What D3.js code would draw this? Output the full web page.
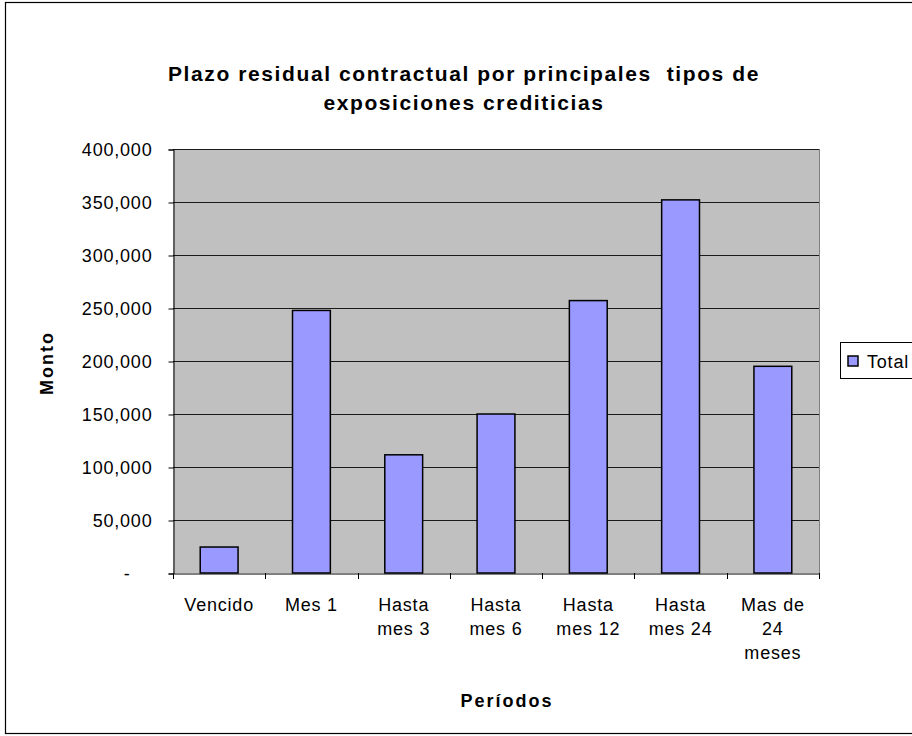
<!DOCTYPE html>
<html>
<head>
<meta charset="utf-8">
<script src="https://cdn.jsdelivr.net/npm/d3@7.9.0/dist/d3.min.js"></script>
<style>
  body { margin: 0; background: #fff; }
  svg { display: block; font-family: "Liberation Sans", Arial, sans-serif; }
</style>
</head>
<body>
<div id="chart"></div>
<script>
const categories = ['Vencido', 'Mes 1', 'Hasta mes 3', 'Hasta mes 6', 'Hasta mes 12', 'Hasta mes 24', 'Mas de 24 meses'];
const categoryLines = [['Vencido'], ['Mes 1'], ['Hasta', 'mes 3'], ['Hasta', 'mes 6'], ['Hasta', 'mes 12'], ['Hasta', 'mes 24'], ['Mas de', '24', 'meses']];
const totals = [24500, 247700, 111500, 150000, 257000, 352000, 195000];
const yTicks = [0, 50000, 100000, 150000, 200000, 250000, 300000, 350000, 400000];
const titleLines = ['Plazo residual contractual por principales  tipos de', 'exposiciones crediticias'];

const width = 912, height = 736;
const plot = { left: 173, right: 819, top: 149, bottom: 573 };

const svg = d3.select('#chart').append('svg')
  .attr('width', width)
  .attr('height', height);

// chart frame
svg.append('rect')
  .attr('x', 5.5).attr('y', 2.5)
  .attr('width', 940).attr('height', 731)
  .attr('fill', '#fff').attr('stroke', '#000').attr('stroke-width', 1.2);

const x = d3.scaleBand()
  .domain(categories)
  .range([plot.left, plot.right])
  .paddingInner(0.59)
  .paddingOuter(0.295);

const xTicks = d3.scaleBand().domain(categories).range([plot.left, plot.right]);

const y = d3.scaleLinear()
  .domain([0, 400000])
  .range([plot.bottom, plot.top]);

// plot area
svg.append('rect')
  .attr('x', plot.left).attr('y', plot.top)
  .attr('width', plot.right - plot.left).attr('height', plot.bottom - plot.top)
  .attr('fill', '#c0c0c0');

svg.append('line')
  .attr('x1', plot.right + 0.5).attr('x2', plot.right + 0.5)
  .attr('y1', plot.top).attr('y2', plot.bottom)
  .attr('stroke', '#808080');

// gridlines
svg.append('g').selectAll('line')
  .data(yTicks.filter(d => d > 0))
  .join('line')
  .attr('x1', plot.left).attr('x2', plot.right)
  .attr('y1', d => Math.round(y(d)) + 0.5).attr('y2', d => Math.round(y(d)) + 0.5)
  .attr('stroke', '#1a1a1a').attr('stroke-width', 1.2);

// y axis
const yAxis = d3.axisLeft(y)
  .tickValues(yTicks)
  .tickSize(5)
  .tickPadding(16)
  .tickFormat(d => d === 0 ? '-' : d3.format(',')(d));

svg.append('g')
  .attr('transform', `translate(${plot.left + 0.5},0.5)`)
  .call(yAxis)
  .call(g => g.select('.domain').attr('stroke', '#000'))
  .call(g => g.selectAll('.tick line').attr('stroke', '#000'))
  .call(g => g.selectAll('.tick text').attr('font-size', 18).attr('fill', '#000')
    .attr('letter-spacing', 0.8)
    .attr('font-family', '"Liberation Sans", Arial, sans-serif'))
  .call(g => g.selectAll('.tick text').filter(d => d === 0).attr('dx', -22));

// bars
svg.append('g').selectAll('rect')
  .data(totals)
  .join('rect')
  .attr('x', (d, i) => x(categories[i]))
  .attr('y', d => y(d))
  .attr('width', x.bandwidth())
  .attr('height', d => plot.bottom - y(d))
  .attr('fill', '#9999ff')
  .attr('stroke', '#000')
  .attr('stroke-width', 1.5);

// x axis
const xAxis = d3.axisBottom(xTicks).tickSize(0).tickFormat('');
const gx = svg.append('g')
  .attr('transform', `translate(0,${plot.bottom + 0.5})`)
  .call(xAxis);
gx.select('.domain').attr('stroke', '#000');

svg.append('g').selectAll('line')
  .data(categories.concat(['end']))
  .join('line')
  .attr('x1', (d, i) => Math.round(i < categories.length ? xTicks(d) : plot.right) + 0.5)
  .attr('x2', (d, i) => Math.round(i < categories.length ? xTicks(d) : plot.right) + 0.5)
  .attr('y1', plot.bottom).attr('y2', plot.bottom + 6)
  .attr('stroke', '#000');

const labels = svg.append('g').selectAll('text')
  .data(categoryLines)
  .join('text')
  .attr('text-anchor', 'middle')
  .attr('font-size', 18)
  .attr('letter-spacing', 0.8)
  .attr('fill', '#000');

labels.selectAll('tspan')
  .data((lines, i) => lines.map(t => ({ t, c: categories[i] })))
  .join('tspan')
  .attr('x', d => xTicks(d.c) + xTicks.bandwidth() / 2)
  .attr('y', (d, j) => 611 + j * 24)
  .text(d => d.t);

// titles
svg.append('text')
  .selectAll('tspan')
  .data(titleLines)
  .join('tspan')
  .attr('x', 464)
  .attr('y', (d, i) => 81 + i * 29)
  .attr('text-anchor', 'middle')
  .attr('font-size', 21)
  .attr('font-weight', 'bold')
  .attr('letter-spacing', 1.6)
  .style('white-space', 'pre')
  .text(d => d);

svg.append('text')
  .attr('x', 507).attr('y', 707)
  .attr('text-anchor', 'middle')
  .attr('font-size', 18).attr('font-weight', 'bold')
  .attr('letter-spacing', 2)
  .text('Períodos');

svg.append('text')
  .attr('transform', 'translate(53,363) rotate(-90)')
  .attr('text-anchor', 'middle')
  .attr('font-size', 18).attr('font-weight', 'bold')
  .attr('letter-spacing', 2)
  .text('Monto');

// legend
const legend = svg.append('g');
legend.append('rect')
  .attr('x', 840.5).attr('y', 342.5)
  .attr('width', 90).attr('height', 36)
  .attr('fill', '#fff').attr('stroke', '#000');
legend.append('rect')
  .attr('x', 848).attr('y', 356)
  .attr('width', 10).attr('height', 10)
  .attr('fill', '#9999ff').attr('stroke', '#000').attr('stroke-width', 1.5);
legend.append('text')
  .attr('x', 867).attr('y', 368)
  .attr('font-size', 18)
  .attr('letter-spacing', 0.8)
  .text('Total');
</script>
</body>
</html>
